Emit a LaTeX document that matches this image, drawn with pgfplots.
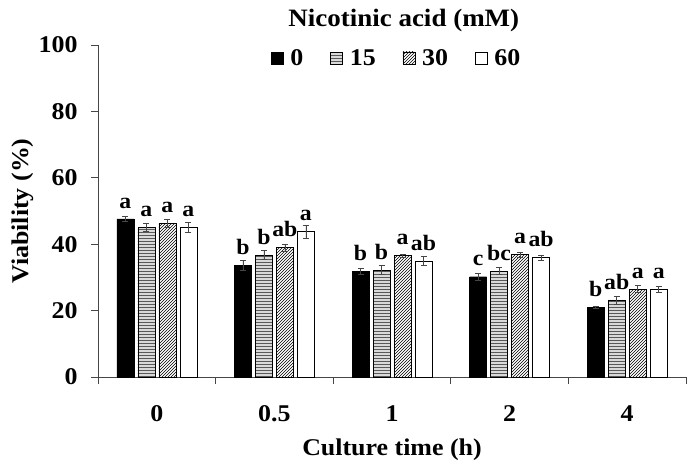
\documentclass[border=0pt]{standalone}
\usepackage{fontspec}
\setmainfont{Liberation Serif}[FakeStretch=1.08]
\usepackage{pgfplots}
\pgfplotsset{compat=1.18}
\usetikzlibrary{patterns}

\newcommand{\bigbf}{\fontsize{24}{28}\selectfont\bfseries}
\newcommand{\titlebf}{\fontsize{25}{29}\selectfont\bfseries}
\newcommand{\letterbf}{\fontsize{22}{26}\selectfont\bfseries}

\begin{document}
\begin{tikzpicture}[x=1pt,y=1pt]
\useasboundingbox (0,0) rectangle (688,461);
\begin{axis}[
  at={(98pt,84pt)}, anchor=south west,
  width=588pt, height=332pt, scale only axis,
  clip=false,
  xmin=-0.5, xmax=4.5, ymin=0, ymax=100,
  ytick={0,20,...,100},
  xtick={0,1,2,3,4}, xticklabels={0,0.5,1,2,4},
  major x tick style={draw=none},
  minor xtick={-0.5,0.5,...,4.5},
  tick align=outside,
  major tick length=7pt, minor tick length=7pt,
  axis x line*=bottom, axis y line*=left,
  axis line style={-, gray!55!black, line width=0.8pt},
  every tick/.style={gray!55!black, line width=0.8pt},
  /pgf/number format/assume math mode=true,
  ticklabel style={font=\bigbf},
  xticklabel style={yshift=-18pt},
  yticklabel style={xshift=-10pt},
  xlabel={Culture time (h)},
  ylabel={Viability (\%)},
  label style={font=\bigbf},
  xlabel style={at={(axis description cs:0.5,-0.22)}, anchor=center},
  ylabel style={at={(axis description cs:-0.128,0.5)}, anchor=center},
  ybar=4pt, bar width=17pt,
  error bars/y dir=both, error bars/y explicit,
  error bars/error bar style={gray!55!black, line width=0.6pt},
  error bars/error mark options={rotate=90, mark size=3pt, gray!55!black, line width=0.6pt},
  nodes near coords,
  point meta=explicit symbolic,
  every node near coord/.append style={font=\letterbf, anchor=south, yshift=7pt, black},
  legend columns=4,
  legend style={at={(axis description cs:0.508,0.961)}, anchor=center,
    draw=none, fill=none, font=\bigbf,
    /tikz/every odd column/.append style={column sep=5pt},
    /tikz/every even column/.append style={column sep=25pt}},
  legend image code/.code={\draw[#1] (0pt,-6pt) rectangle (12pt,6pt);},
]
% 0 mM
\addplot[draw=black, fill=black] coordinates {
  (0,47.6) +- (0,0.8) [a]
  (1,33.6) +- (0,1.5) [b]
  (2,31.8) +- (0,1.0) [b]
  (3,30.2) +- (0,1.0) [c]
  (4,20.9) +- (0,0.3) [b]
};
% 15 mM
\addplot[draw=black, fill=gray!30,
  postaction={pattern=horizontal lines, pattern color=gray!70!black}] coordinates {
  (0,45.0) +- (0,1.2) [a]
  (1,36.8) +- (0,1.3) [b]
  (2,32.2) +- (0,1.3) [b]
  (3,32.0) +- (0,1.0) [bc]
  (4,23.2) +- (0,1.2) [ab]
};
% 30 mM
\addplot[draw=black, fill=white,
  postaction={pattern=north east lines, pattern color=black}] coordinates {
  (0,46.3) +- (0,1.2) [a]
  (1,39.0) +- (0,1.0) [ab]
  (2,36.6) +- (0,0.5) [a]
  (3,36.9) +- (0,0.8) [a]
  (4,26.5) +- (0,1.0) [a]
};
% 60 mM
\addplot[draw=black, fill=white] coordinates {
  (0,45.2) +- (0,1.5) [a]
  (1,43.8) +- (0,2.0) [a]
  (2,35.0) +- (0,1.3) [ab]
  (3,36.0) +- (0,0.8) [ab]
  (4,26.4) +- (0,1.0) [a]
};
\legend{0,15,30,60}
\node[font=\titlebf] at (axis description cs:0.52,1.075) {Nicotinic acid (mM)};
\end{axis}
\end{tikzpicture}
\end{document}
